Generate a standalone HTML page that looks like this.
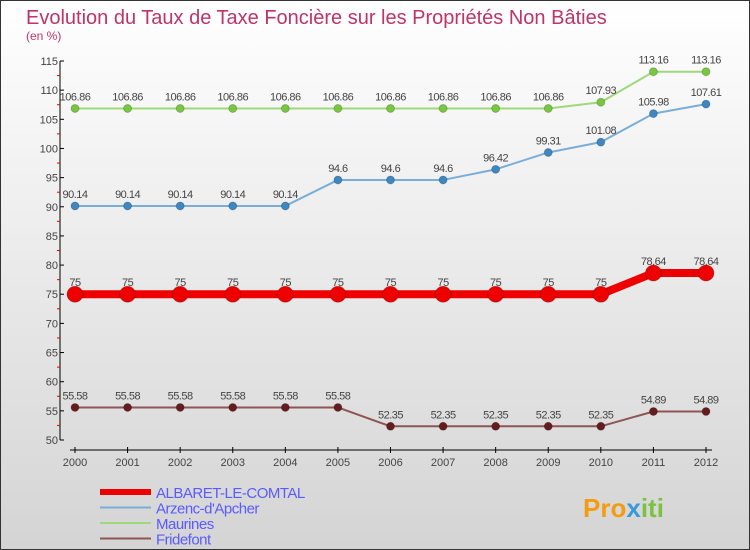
<!DOCTYPE html>
<html><head><meta charset="utf-8"><style>
body{margin:0;}
#wrap{width:750px;height:550px;position:relative;overflow:hidden;}
svg text{font-family:"Liberation Sans",sans-serif;}
</style></head><body>
<div id="wrap">
<svg id="chart" width="750" height="550" xmlns="http://www.w3.org/2000/svg">
<defs><linearGradient id="bg" x1="0" y1="0" x2="0" y2="1">
<stop offset="0" stop-color="#ffffff"/><stop offset="1" stop-color="#d4d4d4"/></linearGradient></defs>
<rect x="0.5" y="0.5" width="749" height="549" fill="url(#bg)" stroke="#333"/>
<text x="26" y="24" font-size="20" fill="#c0336a">Evolution du Taux de Taxe Foncière sur les Propriétés Non Bâties</text>
<text x="26" y="40" font-size="12" fill="#c0336a">(en %)</text>
<g id="axes"></g><g id="series"></g><g id="legend"></g>
<text x="583" y="517" font-size="26" font-weight="bold" fill="#f39c12">Pro<tspan fill="#3a9ad9">x</tspan><tspan fill="#7cc242">iti</tspan></text>
</svg></div>
<script>
const years=["2000","2001","2002","2003","2004","2005","2006","2007","2008","2009","2010","2011","2012"];
const albaret=[75,75,75,75,75,75,75,75,75,75,75,78.64,78.64];
const arzenc=[90.14,90.14,90.14,90.14,90.14,94.6,94.6,94.6,96.42,99.31,101.08,105.98,107.61];
const maurines=[106.86,106.86,106.86,106.86,106.86,106.86,106.86,106.86,106.86,106.86,107.93,113.16,113.16];
const fridefont=[55.58,55.58,55.58,55.58,55.58,55.58,52.35,52.35,52.35,52.35,52.35,54.89,54.89];
const yTicks=[50,55,60,65,70,75,80,85,90,95,100,105,110,115];
const NS="http://www.w3.org/2000/svg";
const x=i=>75+i*(706-75)/(years.length-1);
const y=v=>440-(v-50)*(440-61)/65;
function mk(tag,attrs,parent){const e=document.createElementNS(NS,tag);for(const k in attrs)e.setAttribute(k,attrs[k]);parent.appendChild(e);return e;}
const ax=document.getElementById('axes');
let yl=mk('line',{x1:60,y1:y(115),x2:60,y2:y(50),stroke:'#000'},ax);


yTicks.forEach(t=>{
 mk('line',{x1:60,x2:64,y1:y(t),y2:y(t),stroke:'#000'},ax);
 if(t<115) mk('line',{x1:57,x2:60,y1:y(t+2.5),y2:y(t+2.5),stroke:'#e00'},ax);
 const tx=mk('text',{x:58,y:y(t)+4,'font-size':11,fill:'#444','text-anchor':'end'},ax);
 tx.textContent=t;
 
 
});
let xl=mk('line',{x1:70,y1:450,x2:712,y2:450,stroke:'#000'},ax);


years.forEach((yr,i)=>{
 mk('line',{x1:x(i),x2:x(i),y1:447,y2:453,stroke:'#000'},ax);
 const tx=mk('text',{x:x(i),y:466,'font-size':11,fill:'#444','text-anchor':'middle'},ax);
 tx.textContent=yr;
 
 
});
const sg=document.getElementById('series');
function series(name,vals,color,dot,w,r){
 const g=mk('g',{},sg);
 
 
 mk('polyline',{points:vals.map((v,i)=>x(i)+','+y(v)).join(' '),fill:'none',stroke:color,'stroke-width':w,'stroke-linejoin':'round'},g);
 vals.forEach((v,i)=>{
  const c=mk('circle',{cx:x(i),cy:y(v),r:r,fill:dot,stroke:'#0003'},g);
  
  
  const t=mk('text',{x:x(i),y:y(v)-8,'font-size':11,fill:'#444','text-anchor':'middle','letter-spacing':'-0.5'},g);
  t.textContent=String(v);
  
  
 });
}
series('maurines',maurines,'#9ed97a','#77c83e',2,4);
series('arzenc',arzenc,'#7aaed6','#3d87c2',2,4);
series('fridefont',fridefont,'#8e5555','#661c1c',2,4);
series('albaret',albaret,'#ee0000','#ee0000',8,8);
const lg=document.getElementById('legend');
[["ALBARET-LE-COMTAL","#ee0000",6],["Arzenc-d'Apcher","#7aaed6",2],["Maurines","#9ed97a",2],["Fridefont","#8e5555",2]].forEach((d,i)=>{
 const yy=492+i*15.5;
 const l=mk('line',{x1:100,x2:151,y1:yy,y2:yy,stroke:d[1],'stroke-width':d[2]},lg);
 
 
 const t=mk('text',{x:156,y:yy+6,'font-size':15,fill:'#5a5aff','letter-spacing':'-0.5'},lg);
 t.textContent=d[0];
 
 
});
</script>
</body></html>
